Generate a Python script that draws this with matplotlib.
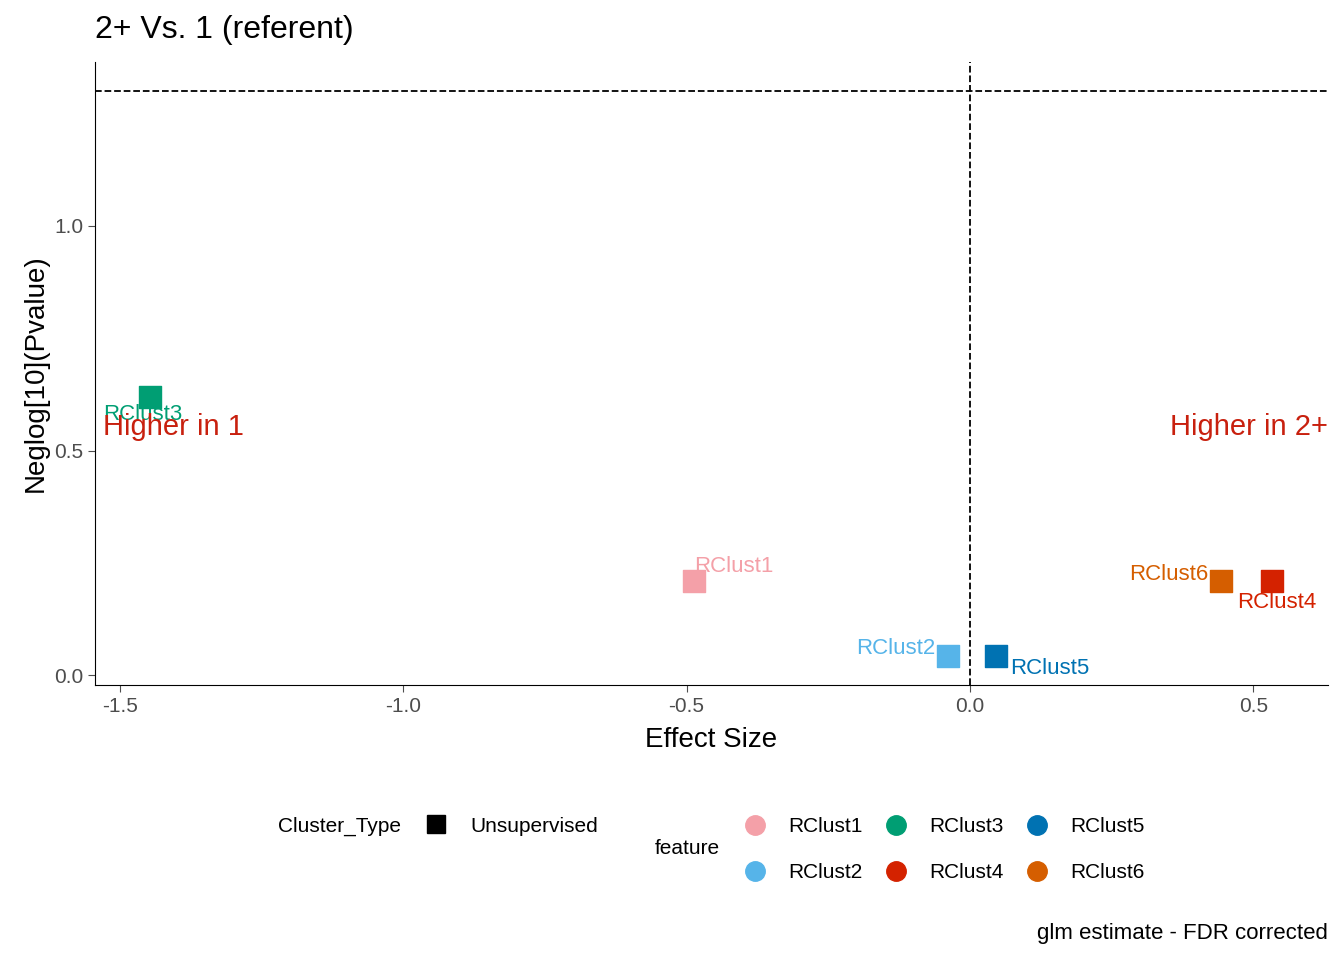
import matplotlib
matplotlib.use("Agg")
import matplotlib.pyplot as plt
from matplotlib.lines import Line2D

features = ["RClust1", "RClust2", "RClust3", "RClust4", "RClust5", "RClust6"]
effect = [-0.487, -0.039, -1.447, 0.533, 0.046, 0.443]
neglogp = [0.209, 0.042, 0.619, 0.209, 0.042, 0.209]
colors = ["#F4A0A8", "#56B4E9", "#009E73", "#D42200", "#0072B2", "#D55E00"]
# label offsets (pt) and alignment
lab = {"RClust1": (0, 3, "left", "bottom"), "RClust2": (-9, -2, "right", "bottom"),
       "RClust3": (-34, -20, "left", "bottom"), "RClust4": (-25, -8, "left", "top"),
       "RClust5": (10, -1, "left", "top"), "RClust6": (-9, -3, "right", "bottom")}

plt.rcParams['font.family'] = ['Liberation Sans', 'DejaVu Sans']
fig = plt.figure(figsize=(13.44, 9.6), dpi=100)
ax = fig.add_axes([95/1344, 1-685/960, (1328-95)/1344, (685-62)/960])
for f, x, y, c in zip(features, effect, neglogp, colors):
    ax.scatter(x, y, marker="s", s=230, color=c, zorder=3)
    dx, dy, ha, va = lab[f]
    ax.annotate(f, (x, y), xytext=(dx, dy), textcoords="offset points", ha=ha, va=va,
                color=c, fontsize=16)
ax.axhline(1.301, ls="--", color="black", lw=1.3)
ax.axvline(0, ls="--", color="black", lw=1.3)
ax.set_xlim(-1.544, 0.632)
ax.set_ylim(-0.022, 1.365)
ax.set_xticks([-1.5, -1.0, -0.5, 0.0, 0.5])
ax.set_xticklabels(["-1.5", "-1.0", "-0.5", "0.0", "0.5"])
ax.set_yticks([0.0, 0.5, 1.0])
ax.set_yticklabels(["0.0", "0.5", "1.0"])
ax.tick_params(labelsize=15, colors="#4D4D4D", length=5)
for s in ["top", "right"]:
    ax.spines[s].set_visible(False)
ax.set_xlabel("Effect Size", fontsize=20, labelpad=8)
ax.set_ylabel("Neglog[10](Pvalue)", fontsize=20, labelpad=4)
ax.text(-1.53, 0.552, "Higher in 1", color="#C8200E", fontsize=21, va="center", ha="left")
ax.text(0.632, 0.552, "Higher in 2+", color="#C8200E", fontsize=21, va="center", ha="right")
fig.text(95/1344, 1-30/960, "2+ Vs. 1 (referent)", fontsize=23, va="center")

def fx(p): return p/1344
def fy(p): return 1-p/960
fig.text(fx(278), fy(826), "Cluster_Type", fontsize=15, va="center")
fig.add_artist(Line2D([fx(436)], [fy(824)], marker="s", ms=13, color="black", ls=""))
fig.text(fx(470), fy(826), "Unsupervised", fontsize=15, va="center")
fig.text(fx(655), fy(849), "feature", fontsize=15, va="center")
pos = [(755, 825), (755, 871), (896, 825), (896, 871), (1037, 825), (1037, 871)]
for f, c, (px, py) in zip(features, colors, pos):
    fig.add_artist(Line2D([fx(px)], [fy(py)], marker="o", ms=14, color=c, ls=""))
    fig.text(fx(px+33), fy(py+1), f, fontsize=15, va="center")
fig.text(fx(1328), fy(933), "glm estimate - FDR corrected", fontsize=16, va="center", ha="right")
fig.savefig("out.png", dpi=100)
